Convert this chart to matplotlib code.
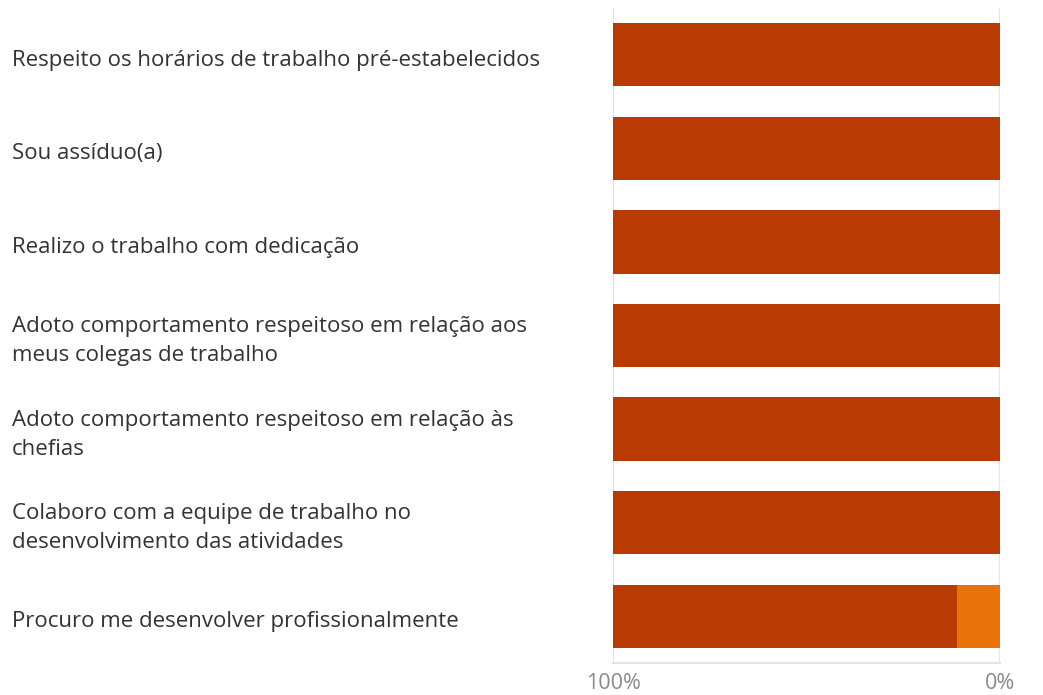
import matplotlib.pyplot as plt
import matplotlib.transforms as mtransforms
import numpy as np

# Survey statements (top to bottom)
statements = [
    "Respeito os horários de trabalho pré-estabelecidos",
    "Sou assíduo(a)",
    "Realizo o trabalho com dedicação",
    "Adoto comportamento respeitoso em relação aos\nmeus colegas de trabalho",
    "Adoto comportamento respeitoso em relação às\nchefias",
    "Colaboro com a equipe de trabalho no\ndesenvolvimento das atividades",
    "Procuro me desenvolver profissionalmente",
]

# Percent of answers per category
pct_dark = [100, 100, 100, 100, 100, 100, 89]
pct_orange = [0, 0, 0, 0, 0, 0, 11]

tick_vals = [100, 0]
tick_labels = ["100%", "0%"]

dark_color = "#B93A02"
orange_color = "#E9720B"
grid_color = "#E3E3E3"

plt.rcParams['font.family'] = ['Open Sans', 'DejaVu Sans']

fig = plt.figure(figsize=(10.43, 6.95), dpi=100)
ax = fig.add_axes([613 / 1043, 1 - 663 / 695, 387 / 1043, 655 / 695])

y = np.arange(len(statements))
dark = np.array(pct_dark)
orange = np.array(pct_orange)

# axis is reversed: 100% on the left, 0% on the right
ax.barh(y, orange, left=0, height=0.675, color=orange_color, zorder=3)
ax.barh(y, dark, left=orange, height=0.675, color=dark_color, zorder=3)

ax.set_xlim(100, 0)
ax.set_ylim(len(statements) - 0.5, -0.5)

ax.set_xticks(tick_vals)
ax.set_xticklabels(tick_labels, fontsize=15.5, color="#8A8A8A")
ax.tick_params(axis='x', length=0, pad=7)
ax.set_yticks([])
ax.grid(axis='x', color=grid_color, linewidth=1.5, zorder=0)

for side in ['top', 'left', 'right']:
    ax.spines[side].set_visible(False)
ax.spines['bottom'].set_color(grid_color)
ax.spines['bottom'].set_linewidth(1.5)

trans = mtransforms.blended_transform_factory(fig.transFigure, ax.transData)
for i, label in enumerate(statements):
    ax.text(12 / 1043, i + 0.06, label, transform=trans, ha='left', va='center',
            fontsize=16, color="#333333", linespacing=1.5)

plt.savefig("out.png", dpi=100)
